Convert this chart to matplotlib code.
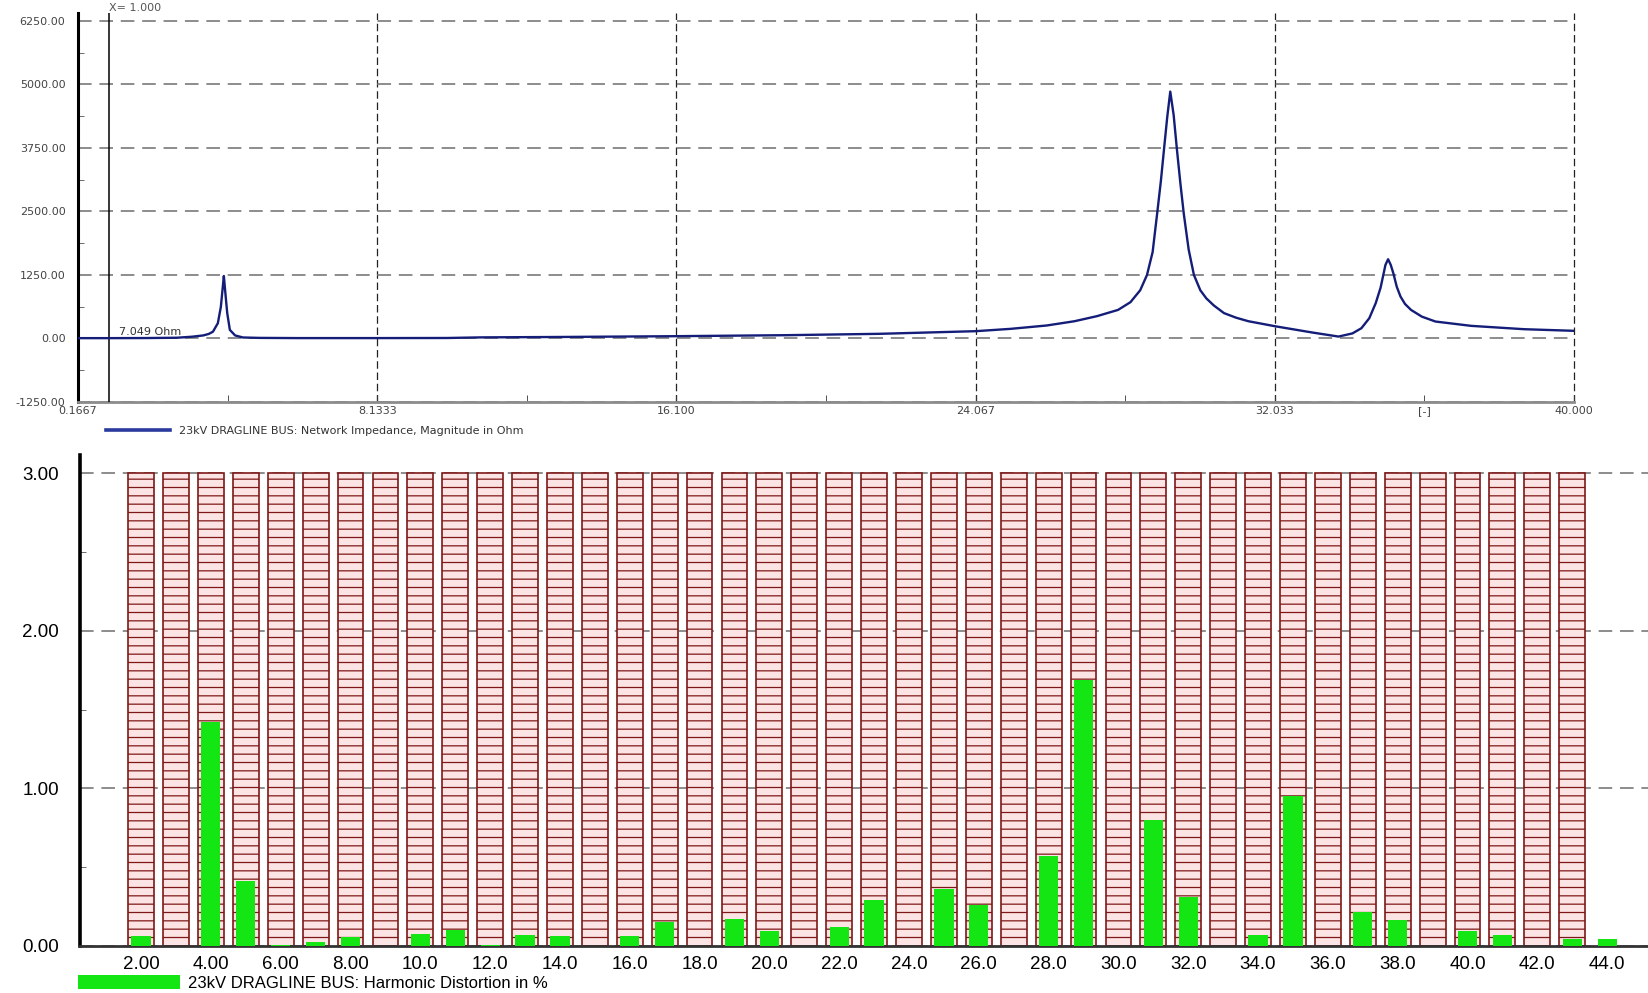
import matplotlib
matplotlib.use('Agg')
import matplotlib.pyplot as plt


# ---- top panel: network impedance vs harmonic order ----
imp_freq = [0.1667, 1.00, 2.00, 2.80, 3.20, 3.50, 3.65, 3.76, 3.89, 3.97,
            4.02, 4.05, 4.09, 4.14, 4.21, 4.35, 4.56, 5.00, 6.00, 8.00,
            10.0, 10.9, 13.0, 16.0, 19.0, 21.5, 24.07, 25.00, 25.96, 26.70,
            27.30, 27.86, 28.19, 28.45, 28.63, 28.78, 28.90, 29.00, 29.08, 29.17,
            29.25, 29.34, 29.43, 29.52, 29.61, 29.74, 29.88, 30.05, 30.21, 30.41,
            30.68, 31.00, 31.33, 32.05, 33.03, 33.73, 34.10, 34.34, 34.55, 34.72,
            34.85, 34.98, 35.05, 35.12, 35.19, 35.28, 35.38, 35.50, 35.66, 35.95,
            36.31, 37.26, 38.67, 40.00]
imp_ohm = [7, 7, 9, 15, 35, 60, 90, 134, 300, 620,
           1000, 1230, 900, 500, 170, 60, 20, 12, 8, 8,
           10, 22, 30, 45, 65, 92, 144, 190, 256, 340,
           440, 563, 715, 950, 1250, 1700, 2454, 3100, 3700, 4364,
           4860, 4400, 3700, 3050, 2454, 1750, 1250, 950, 790, 650,
           500, 410, 340, 240, 118, 38, 100, 203, 400, 695,
           1000, 1450, 1560, 1450, 1284, 1020, 826, 680, 563, 430,
           334, 249, 183, 151]

imp_xticks = [0.1667, 8.1333, 16.100, 24.067, 32.033, 40.000]
imp_xlabels = ['0.1667', '8.1333', '16.100', '24.067', '32.033', '40.000']
imp_xminor = [4.150, 12.117, 20.083, 28.050, 36.017]
imp_xminor_labels = ['', '', '', '', '[-]']
imp_yticks = [-1250, 0, 1250, 2500, 3750, 5000, 6250]
imp_ylabels = ['-1250.00', '0.00', '1250.00', '2500.00', '3750.00', '5000.00', '6250.00']
imp_yminor = [-625, 625, 1875, 3125, 4375, 5625]
cursor_x = 1.0
cursor_text = '7.049 Ohm'

# ---- bottom panel: harmonic distortion in % ----
harmonics = [2, 3, 4, 5, 6, 7, 8, 9, 10, 11, 12, 13, 14, 15, 16, 17, 18, 19, 20, 21, 22,
             23, 24, 25, 26, 27, 28, 29, 30, 31, 32, 33, 34, 35, 36, 37, 38, 39, 40, 41, 42, 43, 44]
thd_pct = [0.064, 0.0, 1.42, 0.41, 0.008, 0.028, 0.06, 0.0, 0.076, 0.10, 0.008,
           0.07, 0.066, 0.0, 0.064, 0.155, 0.0, 0.17, 0.098, 0.0, 0.123,
           0.293, 0.0, 0.36, 0.257, 0.0, 0.573, 1.69, 0.0, 0.80, 0.31,
           0.0, 0.07, 0.95, 0.0, 0.214, 0.166, 0.0, 0.098, 0.07, 0.0,
           0.045, 0.045]
limit_harm = [2, 3, 4, 5, 6, 7, 8, 9, 10, 11, 12, 13, 14, 15, 16, 17, 18, 19, 20, 21, 22,
              23, 24, 25, 26, 27, 28, 29, 30, 31, 32, 33, 34, 35, 36, 37, 38, 39, 40, 41, 42, 43]
limit_pct = [3.00, 3.00, 3.00, 3.00, 3.00, 3.00, 3.00, 3.00, 3.00, 3.00, 3.00,
             3.00, 3.00, 3.00, 3.00, 3.00, 3.00, 3.00, 3.00, 3.00, 3.00,
             3.00, 3.00, 3.00, 3.00, 3.00, 3.00, 3.00, 3.00, 3.00, 3.00,
             3.00, 3.00, 3.00, 3.00, 3.00, 3.00, 3.00, 3.00, 3.00, 3.00, 3.00]
h_ticks = [2, 4, 6, 8, 10, 12, 14, 16, 18, 20, 22, 24, 26, 28, 30, 32, 34, 36, 38, 40, 42, 44]
h_labels = ['2.00', '4.00', '6.00', '8.00', '10.0', '12.0', '14.0', '16.0', '18.0', '20.0', '22.0',
            '24.0', '26.0', '28.0', '30.0', '32.0', '34.0', '36.0', '38.0', '40.0', '42.0', '44.0']
pct_yticks = [0, 1, 2, 3]
pct_ylabels = ['0.00', '1.00', '2.00', '3.00']
pct_yminor = [0.5, 1.5, 2.5]

plt.rcParams['hatch.linewidth'] = 0.9

W, H = 1649, 993
fig = plt.figure(figsize=(W / 100, H / 100), dpi=100)

# top axes
ax1 = fig.add_axes([78 / W, 1 - 402 / H, (1574 - 78) / W, 389 / H])
ax1.plot(imp_freq, imp_ohm, color='#141d78', lw=1.7, zorder=4,
         label='23kV DRAGLINE BUS: Network Impedance, Magnitude in Ohm')
ax1.axvline(cursor_x, color='black', lw=1.1, zorder=3)
ax1.set_xlim(0.1667, 40.0)
ax1.set_ylim(-1250, 6407)
ax1.set_xticks(imp_xticks)
ax1.set_xticklabels(imp_xlabels)
ax1.set_xticks(imp_xminor, minor=True)
ax1.set_xticklabels(imp_xminor_labels, minor=True)
ax1.set_yticks(imp_yticks)
ax1.set_yticklabels(imp_ylabels)
ax1.set_yticks(imp_yminor, minor=True)
ax1.xaxis.grid(True, which='major', ls=(0, (6, 3)), color='#222222', lw=0.9)
ax1.yaxis.grid(True, which='major', ls=(0, (7, 4)), color='#8c8c8c', lw=1.4)
for gl in ax1.get_xgridlines():
    gl.set_clip_on(False)
ax1.tick_params(axis='x', which='both', direction='in', length=5, color='#333333',
                labelsize=8, labelcolor='#444444', pad=3)
ax1.tick_params(axis='y', which='major', length=0, labelsize=8, labelcolor='#444444', pad=9)
ax1.tick_params(axis='y', which='minor', direction='in', length=4, color='#555555')
for lbl in ax1.get_xticklabels() + ax1.get_yticklabels() + ax1.get_xticklabels(minor=True):
    lbl.set_family('DejaVu Sans')
ax1.spines['top'].set_visible(False)
ax1.spines['right'].set_visible(False)
ax1.spines['left'].set_color('black')
ax1.spines['left'].set_linewidth(2.2)
ax1.spines['bottom'].set_color('#8c8c8c')
ax1.spines['bottom'].set_linewidth(2)
ax1.text(cursor_x, 1.0, 'X= 1.000', transform=ax1.get_xaxis_transform(),
         ha='left', va='bottom', fontsize=8, color='#555555')
ax1.text(1.25, 25, cursor_text, ha='left', va='bottom', fontsize=8, color='#333333')
ax1.legend(loc='center left', bbox_to_anchor=(106 / W, 1 - 431 / H),
           bbox_transform=fig.transFigure, frameon=False, fontsize=8,
           handlelength=5.8, handletextpad=0.8, borderpad=0, borderaxespad=0,
           labelcolor='#333333')
ax1.get_legend().get_lines()[0].set_color('#2a3a9e')
ax1.get_legend().get_lines()[0].set_linewidth(2.6)

# bottom axes
ax2 = fig.add_axes([80 / W, 47 / H, 1 - 80 / W, 491 / H])
ax2.set_axisbelow(True)
ax2.bar(limit_harm, limit_pct, width=0.74, color='#fde4e4', edgecolor='#7e1818',
        hatch='--', lw=1.2, zorder=2)
bars = ax2.bar(harmonics, thd_pct, width=0.55, color='#14e614', edgecolor='none', zorder=3,
               label='23kV DRAGLINE BUS: Harmonic Distortion in %')
ax2.set_xlim(0.25, 45.2)
ax2.set_ylim(0, 3.115)
ax2.set_xticks(h_ticks)
ax2.set_xticklabels(h_labels)
ax2.set_yticks(pct_yticks)
ax2.set_yticklabels(pct_ylabels)
ax2.set_yticks(pct_yminor, minor=True)
ax2.yaxis.grid(True, which='major', ls=(0, (7, 4)), color='#8c8c8c', lw=1.4, zorder=1)
ax2.tick_params(axis='x', length=0, labelsize=13.5, pad=7)
ax2.tick_params(axis='y', which='major', length=0, labelsize=13.5, pad=15)
ax2.tick_params(axis='y', which='minor', direction='in', length=4, color='#555555')
for lbl in ax2.get_xticklabels() + ax2.get_yticklabels():
    lbl.set_family('Liberation Sans')
ax2.spines['top'].set_visible(False)
ax2.spines['right'].set_visible(False)
ax2.spines['left'].set_color('black')
ax2.spines['left'].set_linewidth(2.6)
ax2.spines['bottom'].set_color('#333333')
ax2.spines['bottom'].set_linewidth(2)
ax2.legend(handles=[bars], loc='center left', bbox_to_anchor=(78 / W, 1 - 983 / H),
           bbox_transform=fig.transFigure, frameon=False,
           prop={'family': 'Liberation Sans', 'size': 12},
           handlelength=6.1, handleheight=0.95, handletextpad=0.5,
           borderpad=0, borderaxespad=0)

fig.savefig('out.png', dpi=100)
